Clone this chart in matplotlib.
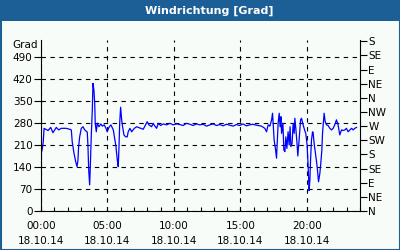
import matplotlib
matplotlib.use('Agg')
import matplotlib.pyplot as plt
from matplotlib.patches import Rectangle

# Windrichtung 18.10.14, hours since midnight and degrees
hours = [0.0, 0.08, 0.17, 0.23, 0.53, 0.73, 0.9, 1.15, 1.33, 1.53, 1.9, 2.16, 2.28,
         2.35, 2.48, 2.61, 2.71, 2.78, 2.83, 2.91, 3.03, 3.16, 3.29, 3.48, 3.53, 3.59,
         3.66, 3.71, 3.78, 3.86, 3.91, 3.98, 4.04, 4.08, 4.16, 4.23, 4.36, 4.51, 4.61,
         4.76, 4.89, 4.98, 5.11, 5.26, 5.44, 5.56, 5.64, 5.74, 5.81, 5.86, 5.92, 5.99,
         6.07, 6.14, 6.24, 6.37, 6.49, 6.56, 6.69, 6.82, 7.02, 7.2, 7.44, 7.69, 7.87,
         7.99, 8.12, 8.32, 8.44, 8.57, 8.7, 8.82, 9.0, 9.2, 9.45, 9.7, 9.95, 10.2,
         10.45, 10.7, 10.95, 11.2, 11.45, 11.7, 11.95, 12.2, 12.45, 12.7, 12.95, 13.2,
         13.45, 13.7, 13.95, 14.2, 14.45, 14.7, 14.95, 15.2, 15.45, 15.7, 15.95, 16.09,
         16.34, 16.59, 16.84, 16.97, 17.09, 17.22, 17.35, 17.42, 17.47, 17.54, 17.65,
         17.72, 17.77, 17.84, 17.92, 17.99, 18.05, 18.1, 18.2, 18.27, 18.35, 18.42,
         18.5, 18.59, 18.67, 18.74, 18.8, 18.89, 18.97, 19.05, 19.1, 19.17, 19.27,
         19.32, 19.42, 19.53, 19.6, 19.72, 19.85, 19.92, 20.02, 20.1, 20.17, 20.23,
         20.28, 20.35, 20.43, 20.47, 20.55, 20.65, 20.73, 20.8, 20.88, 20.98, 21.05,
         21.13, 21.18, 21.26, 21.3, 21.38, 21.48, 21.6, 21.73, 21.86, 21.98, 22.1,
         22.23, 22.35, 22.48, 22.61, 22.73, 22.86, 22.98, 23.11, 23.24, 23.37, 23.48,
         23.61, 23.74]
grad = [181, 194, 220, 263, 256, 266, 249, 266, 258, 263, 263, 260, 258,
        220, 184, 157, 141, 162, 205, 236, 263, 268, 258, 251, 210, 130,
        83, 141, 236, 321, 406, 385, 343, 279, 252, 279, 268, 277, 270,
        274, 263, 252, 266, 274, 258, 226, 205, 162, 141, 194, 279, 330,
        290, 268, 242, 236, 236, 252, 263, 252, 263, 268, 264, 260, 274,
        284, 274, 268, 279, 270, 263, 279, 272, 277, 274, 279, 274, 277,
        275, 272, 279, 276, 272, 277, 274, 276, 270, 274, 277, 272, 275,
        271, 276, 273, 270, 275, 272, 277, 271, 274, 276, 274,
        272, 270, 263, 252, 274, 270, 290, 311, 274, 226, 194,
        168, 215, 279, 311, 268, 300, 247, 279, 194, 189, 236,
        199, 252, 210, 268, 205, 215, 279, 247, 295, 263, 210,
        175, 226, 290, 295, 274, 255, 247, 210, 141, 65, 99,
        162, 226, 252, 250, 215, 184, 157, 130, 93, 120, 152,
        194, 247, 290, 311, 284, 274, 272, 263, 258, 263, 274,
        290, 274, 242, 258, 256, 258, 263, 252, 258, 263, 258,
        263, 266]

x_ticks = [0, 5, 10, 15, 20]
x_labels = ['00:00\n18.10.14', '05:00\n18.10.14', '10:00\n18.10.14',
            '15:00\n18.10.14', '20:00\n18.10.14']
y_ticks = [0, 70, 140, 210, 280, 350, 420, 490]
dir_ticks = [0, 45, 90, 135, 180, 225, 270, 315, 360, 405, 450, 495, 540]
dir_labels = ['N', 'NE', 'E', 'SE', 'S', 'SW', 'W', 'NW', 'N', 'NE', 'E', 'SE', 'S']

blue_frame = '#1c5f96'
bg = '#f8fcf8'

fig = plt.figure(figsize=(4, 2.5), dpi=100, facecolor=bg)
# title bar and thin blue frame
fig.patches.append(Rectangle((0, 1 - 21/250), 1, 21/250, transform=fig.transFigure,
                             facecolor=blue_frame, edgecolor='none', zorder=-5))
fig.patches.append(Rectangle((1/800, 1/500), 1 - 2/800, 1 - 2/500, transform=fig.transFigure,
                             facecolor='none', edgecolor=blue_frame, lw=1.5, zorder=-5))
fig.text(209/400, 1 - 10.5/250, 'Windrichtung [Grad]', color='white', fontsize=8,
         fontweight='bold', ha='center', va='center')

ax = fig.add_axes([41/400, 1 - 211/250, (360 - 41)/400, (211 - 40)/250])
ax.set_facecolor(bg)
ax.plot(hours, grad, color='#0000ff', lw=0.9)

ax.set_xlim(0, 24)
ax.set_ylim(0, 544)
ax.set_xticks(x_ticks)
ax.set_xticklabels(x_labels, fontsize=7.5, linespacing=1.6)
ax.set_xticks(range(25), minor=True)
ax.set_yticks(y_ticks)
ax.set_yticklabels([str(v) for v in y_ticks], fontsize=7.5)
ax.tick_params(axis='x', which='both', direction='in', length=3, width=0.8, pad=7)
ax.tick_params(axis='y', direction='out', length=5, width=0.8, pad=1)
ax.grid(True, which='major', color='black', lw=0.8, linestyle=(0, (4, 4)))
for s in ['top', 'right']:
    ax.spines[s].set_visible(False)
for s in ['left', 'bottom']:
    ax.spines[s].set_linewidth(0.8)
ax.text(-0.01, 1.0, 'Grad', transform=ax.transAxes, ha='right', va='top', fontsize=7.5)

ax2 = ax.twinx()
ax2.set_ylim(0, 544)
ax2.set_yticks(dir_ticks)
ax2.set_yticklabels(dir_labels, fontsize=7.5)
ax2.tick_params(axis='y', direction='out', length=5, width=0.8, pad=1)
for s in ['top', 'left', 'bottom']:
    ax2.spines[s].set_visible(False)
ax2.spines['right'].set_linewidth(0.8)

fig.savefig('out.png', dpi=100, facecolor=bg)
